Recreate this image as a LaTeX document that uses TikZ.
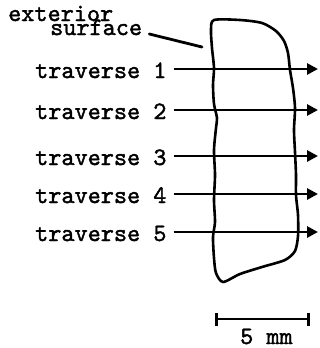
\documentclass[tikz,border=0pt]{standalone}
\usepackage{fontspec}
\newfontfamily\thicktt[FakeBold=1.6]{lmmono10-regular.otf}
\usetikzlibrary{arrows.meta}
\begin{document}
\begin{tikzpicture}[x=1pt,y=-1pt,
  lbl/.style={inner sep=0pt,anchor=base west,font=\fontsize{25}{25}\selectfont\thicktt},
  trav/.style={line width=2.8pt,-{Triangle[length=11pt,width=11pt]}},
  outline/.style={line width=2.6pt,line join=round},
  leader/.style={line width=2.8pt,line cap=round}]
\useasboundingbox (0,0) rectangle (320,348);
% specimen outline
\draw[outline] plot[smooth cycle,tension=0.45] coordinates {
 (214,20) (240,20) (262,23) (276,31) (284,41) (288,53) (290,70) (293,88)
 (295,108) (294,130) (295,152) (296,175) (296,195) (298,215) (298,236)
 (295,251) (285,260) (262,267) (240,274) (223,282) (216,273) (214,258)
 (213,237) (215,222) (214,200) (215,175) (214,150) (216,128) (217,118)
 (214,104) (213,85) (214,68) (212,48) (211,30)};
% labels
\node[lbl] (ext) at (8,21) {exterior};
\node[lbl] (surf) at (50,35) {surface};
\coordinate (lend) at (202,47);
\draw[leader] ([xshift=7pt,yshift=1pt]surf.base east) -- (lend);
\foreach \i/\y in {1/69,2/110,3/156,4/194,5/232}{
  \node[lbl] (t\i) at (35,\y+9) {traverse \i};
  \coordinate (e\i) at (318,\y);
  \draw[trav] ([xshift=7pt]t\i.east |- e\i) -- (e\i);
}
% scale bar
\coordinate (sbl) at (215,319);
\coordinate (sbr) at (310,319);
\draw[line width=2.6pt,{Bar[width=13pt,line width=2.6pt]}-{Bar[width=13pt,line width=2.6pt]}] (sbl) -- (sbr);
\node[lbl] (sc) at (240,344) {5 mm};
\end{tikzpicture}
\end{document}
